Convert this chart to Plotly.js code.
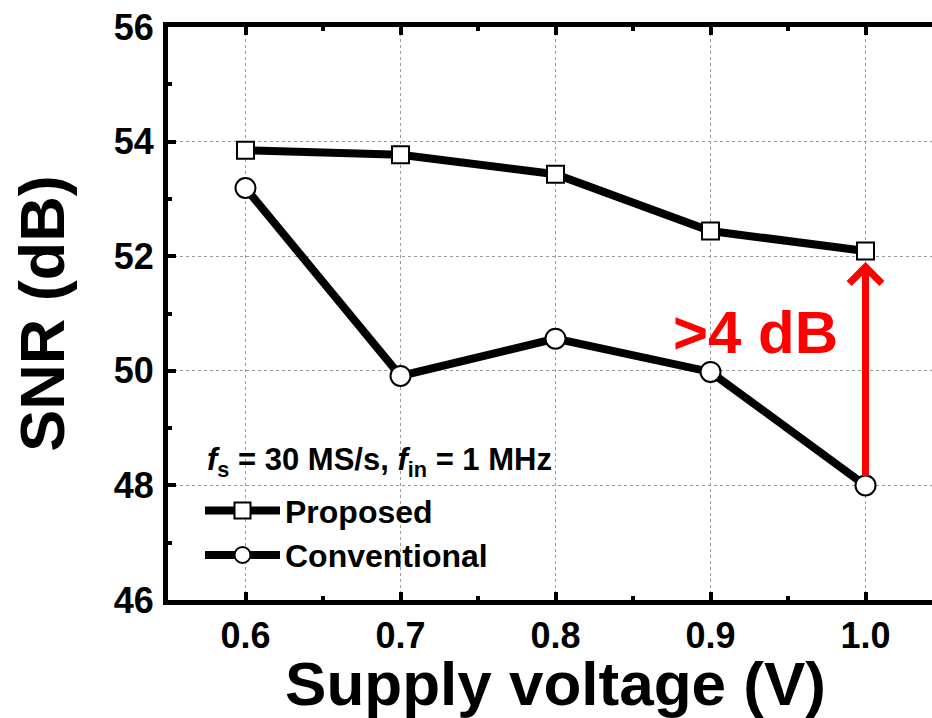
<!DOCTYPE html>
<html>
<head>
<meta charset="utf-8">
<script src="https://cdn.plot.ly/plotly-3.0.1.min.js"></script>
<style>
  html, body { margin: 0; padding: 0; overflow: hidden; background: #fff; }
  #chart { width: 945px; height: 718px; }
</style>
</head>
<body>
<div id="chart"></div>
<script>
// Supply voltage sweep (V)
const voltage = [0.6, 0.7, 0.8, 0.9, 1.0];
// Measured SNR (dB)
const snrProposed = [53.85, 53.77, 53.43, 52.44, 52.09];
const snrConventional = [53.19, 49.91, 50.56, 49.98, 48.0];
const seriesNames = ['Proposed', 'Conventional'];
const xTickVals = [0.6, 0.7, 0.8, 0.9, 1.0];
const xTickText = ['0.6', '0.7', '0.8', '0.9', '1.0'];
const yTickVals = [46, 48, 50, 52, 54, 56];

const FONT = 'Liberation Sans, Arial, Helvetica, sans-serif';

const traces = [
  {
    x: voltage, y: snrProposed, name: seriesNames[0],
    type: 'scatter', mode: 'lines+markers',
    line: { color: '#000', width: 8 },
    marker: { symbol: 'square', size: 17, color: '#fff', line: { color: '#000', width: 2 } }
  },
  {
    x: voltage, y: snrConventional, name: seriesNames[1],
    type: 'scatter', mode: 'lines+markers',
    line: { color: '#000', width: 8 },
    marker: { symbol: 'circle', size: 20, color: '#fff', line: { color: '#000', width: 2 } }
  }
];

const last = voltage.length - 1;

const axisCommon = {
  showline: true, linecolor: '#000', linewidth: 5, mirror: 'ticks',
  ticks: 'inside', ticklen: 8, tickwidth: 4, tickcolor: '#000',
  showgrid: true, gridcolor: '#9a9a9a', gridwidth: 1, griddash: 'dot',
  zeroline: false
};

const layout = {
  width: 945, height: 718,
  margin: { l: 168, r: 2, t: 27, b: 118 },
  paper_bgcolor: '#fff', plot_bgcolor: '#fff',
  showlegend: true,
  legend: {
    x: 0.0413, y: 0.204, xanchor: 'left', yanchor: 'top',
    bgcolor: 'rgba(0,0,0,0)', borderwidth: 0,
    font: { family: FONT, size: 32, weight: 'bold', color: '#000' },
    itemwidth: 75, tracegroupgap: 0
  },
  xaxis: Object.assign({}, axisCommon, {
    range: [0.55, 1.05],
    tickvals: xTickVals, ticktext: xTickText,
    tickfont: { family: FONT, size: 36, weight: 'bold', color: '#000' },
    ticklabelstandoff: 0,
    minor: { ticks: 'inside', ticklen: 4, tickwidth: 4, tickcolor: '#000', dtick: 0.05, showgrid: false },
    title: { text: 'Supply voltage (V)', font: { family: FONT, size: 62, weight: 'bold', color: '#000' }, standoff: 4 }
  }),
  yaxis: Object.assign({}, axisCommon, {
    range: [46, 56],
    tickvals: yTickVals,
    tickfont: { family: FONT, size: 36, weight: 'bold', color: '#000' },
    ticklabelstandoff: 2,
    minor: { ticks: 'inside', ticklen: 4, tickwidth: 4, tickcolor: '#000', dtick: 1, showgrid: false },
    title: { text: 'SNR (dB)', font: { family: FONT, size: 63, weight: 'bold', color: '#000' }, standoff: 30 }
  }),
  annotations: [
    {
      xref: 'paper', yref: 'y', x: 0.048, y: 48.4, xanchor: 'left', yanchor: 'middle',
      text: '<i>f</i><sub>s</sub> = 30 MS/s, <i>f</i><sub>in</sub> = 1 MHz',
      showarrow: false, font: { family: FONT, size: 31, weight: 'bold', color: '#000' }
    },
    {
      // gain arrow between the two series at the highest supply voltage
      x: voltage[last], y: snrProposed[last], xref: 'x', yref: 'y',
      ax: voltage[last], ay: snrConventional[last], axref: 'x', ayref: 'y',
      text: '', showarrow: true, arrowcolor: '#ff0000', arrowwidth: 7,
      arrowhead: 4, arrowsize: 0.9, standoff: 11, startstandoff: 8
    },
    {
      x: 0.929, y: 50.66, xref: 'x', yref: 'y', xanchor: 'center', yanchor: 'middle',
      text: '>4 dB', showarrow: false,
      font: { family: FONT, size: 60, weight: 'bold', color: '#ff0000' }
    }
  ]
};

Plotly.newPlot('chart', traces, layout, { displayModeBar: false, staticPlot: true });
</script>
</body>
</html>
